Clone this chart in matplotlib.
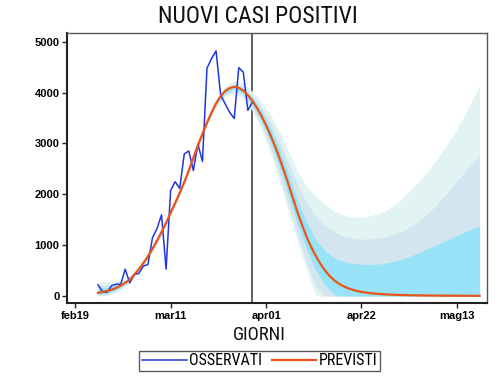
import matplotlib

matplotlib.use("Agg")
import matplotlib.pyplot as plt
from matplotlib import font_manager
import numpy as np

# days counted from feb19 (day 0)
OBS_START = 5  # feb24
OBSERVED = [221, 90, 74, 203, 233, 228, 528, 258, 428, 443, 590, 620, 1145, 1326,
            1598, 529, 2076, 2249, 2116, 2795, 2853, 2470, 2989, 2648, 4480, 4670,
            4821, 3957, 3780, 3612, 3491, 4492, 4401, 3651, 3815]

PRED_START = 5
PREDICTED = [65, 80, 100, 125, 160, 205, 260, 320, 420, 530, 650, 780, 930, 1090,
             1260, 1440, 1640, 1830, 2030, 2240, 2470, 2720, 2960, 3190, 3410, 3610,
             3790, 3930, 4030, 4090, 4115, 4095, 4040, 3950, 3840, 3700, 3540, 3360,
             3160, 2940, 2700, 2450, 2180, 1900, 1630, 1380, 1150, 950, 780, 630, 500,
             395, 310, 245, 195, 155, 125, 100, 82, 68, 56, 47, 40, 34, 29, 25, 22, 19,
             17, 15, 13, 12, 11, 10, 9, 8, 7, 7, 6, 6, 5, 5, 5, 4, 4]

# forecast bands, every second day from day 5 to day 89
BAND_DAYS = list(range(5, 90, 2))
OUTER_HI = [280, 290, 300, 340, 470, 690, 970, 1300, 1680, 2070, 2510, 3000, 3460,
            3860, 4130, 4240, 4190, 4020, 3820, 3560, 3230, 2840, 2440, 2150, 1960,
            1800, 1670, 1590, 1550, 1550, 1580, 1630, 1710, 1840, 2010, 2200, 2400,
            2620, 2870, 3140, 3440, 3780, 4140]
OUTER_LO = [0, 10, 70, 180, 350, 580, 860, 1190, 1570, 1960, 2400, 2890, 3340, 3710,
            3930, 3990, 3880, 3640, 3280, 2810, 2250, 1640, 1050, 490, 0, 0, 0, 0, 0,
            0, 0, 0, 0, 0, 0, 0, 0, 0, 0, 0, 0, 0, 0]
MID_HI = [200, 220, 250, 310, 450, 680, 960, 1290, 1670, 2060, 2500, 2990, 3440, 3830,
          4090, 4190, 4130, 3960, 3720, 3420, 3040, 2600, 2170, 1820, 1560, 1380, 1260,
          1180, 1140, 1120, 1120, 1140, 1180, 1240, 1320, 1430, 1570, 1740, 1940, 2150,
          2370, 2580, 2770]
MID_LO = [0, 30, 100, 210, 380, 610, 890, 1220, 1600, 1990, 2430, 2920, 3370, 3740,
          3960, 4030, 3930, 3700, 3360, 2910, 2380, 1780, 1180, 630, 180, 0, 0, 0, 0,
          0, 0, 0, 0, 0, 0, 0, 0, 0, 0, 0, 0, 0, 0]
IN_HI = [150, 170, 210, 290, 440, 670, 950, 1280, 1660, 2050, 2490, 2980, 3430, 3810,
         4060, 4150, 4080, 3900, 3640, 3300, 2880, 2390, 1850, 1440, 1110, 880, 750,
         680, 645, 625, 620, 630, 660, 700, 760, 830, 910, 990, 1070, 1150, 1230, 1310,
         1380]
IN_LO = [20, 50, 120, 230, 400, 630, 910, 1240, 1620, 2010, 2450, 2940, 3390, 3760,
         3990, 4070, 3980, 3760, 3440, 3030, 2530, 1960, 1400, 900, 500, 210, 30, 0, 0,
         0, 0, 0, 0, 0, 0, 0, 0, 0, 0, 0, 0, 0, 0]

LAST_OBS_DAY = 39
TICK_DAYS = [0, 21, 42, 63, 84]
TICK_LABELS = ["feb19", "mar11", "apr01", "apr22", "mag13"]
Y_TICKS = [0, 1000, 2000, 3000, 4000, 5000]

# narrow face for title / legend: condensed if present, else plain Roboto a bit smaller
installed = {f.name for f in font_manager.fontManager.ttflist}
if "Roboto Condensed" in installed:
    NARROW, SCALE = "Roboto Condensed", 1.0
elif "Liberation Sans Narrow" in installed:
    NARROW, SCALE = "Liberation Sans Narrow", 1.0
else:
    NARROW, SCALE = "Roboto", 0.82

fig = plt.figure(figsize=(5.04, 3.84), dpi=100)
ax = fig.add_axes([0.133, 0.210, 0.833, 0.703])

bd = np.array(BAND_DAYS)
ax.fill_between(bd, OUTER_LO, OUTER_HI, color="#e2f3f4", lw=0, zorder=2)
ax.fill_between(bd, MID_LO, MID_HI, color="#d3e6f0", lw=0, zorder=2)
ax.fill_between(bd, IN_LO, IN_HI, color="#98e3f7", lw=0, zorder=2)

ax.axvline(LAST_OBS_DAY, color="#555555", lw=1.3, zorder=1)

obs_x = np.arange(OBS_START, OBS_START + len(OBSERVED))
pred_x = np.arange(PRED_START, PRED_START + len(PREDICTED))
ax.plot(obs_x, OBSERVED, color="#2236e0", lw=1.1, zorder=3, label="OSSERVATI")
ax.plot(pred_x, PREDICTED, color="#ea5418", lw=1.6, zorder=4, label="PREVISTI")

ax.set_xlim(-1.8, 90.6)
ax.set_ylim(-144, 5165)
ax.set_xticks(TICK_DAYS)
ax.set_xticklabels(TICK_LABELS)
ax.set_yticks(Y_TICKS)
for lab in ax.get_xticklabels() + ax.get_yticklabels():
    lab.set_fontfamily("Liberation Sans")
    lab.set_fontweight("bold")
    lab.set_fontsize(8)
ax.tick_params(length=3.5, width=1.0, color="#222222", pad=2)

for side in ("left", "bottom"):
    ax.spines[side].set_linewidth(1.5)
    ax.spines[side].set_color("#222222")
for side in ("top", "right"):
    ax.spines[side].set_linewidth(1.0)
    ax.spines[side].set_color("#555555")

fig.text(0.512, 0.958, "NUOVI CASI POSITIVI", ha="center", va="center",
         fontsize=17 * SCALE, family=NARROW, color="#111111")
fig.text(0.514, 0.127, "GIORNI", ha="center", va="center",
         fontsize=13.5 * SCALE, family=NARROW, color="#111111")

leg = fig.legend(loc="center", bbox_to_anchor=(0.515, 0.06), ncol=2,
                 frameon=True, fancybox=False, handlelength=2.8 / SCALE,
                 handletextpad=0.15, columnspacing=0.6, borderpad=0.15,
                 prop={"family": NARROW, "size": 11.5 * SCALE})
leg.get_frame().set_edgecolor("#333333")
leg.get_frame().set_linewidth(1.0)

fig.savefig("out.png", dpi=100, facecolor="white")
